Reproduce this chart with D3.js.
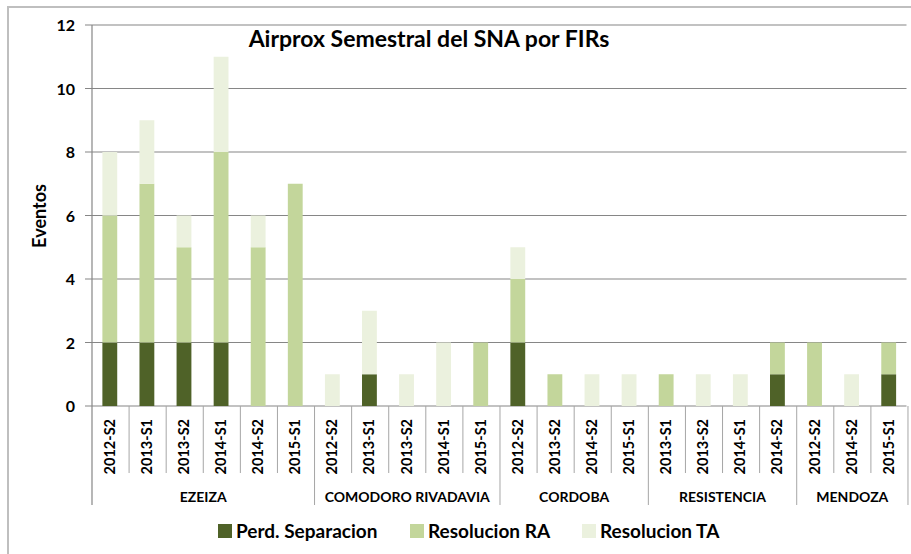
<!DOCTYPE html>
<html>
<head>
<meta charset="utf-8">
<script src="https://cdn.jsdelivr.net/npm/d3@7"></script>
<style>
  body { margin: 0; background: #fff; }
  text { font-family: Lato, "Open Sans", sans-serif; font-weight: bold; fill: #000; }
</style>
</head>
<body>
<svg id="chart" width="911" height="554"></svg>
<script>
// categories: one entry per bar, grouped by FIR
var firs = ["EZEIZA", "COMODORO RIVADAVIA", "CORDOBA", "RESISTENCIA", "MENDOZA"];
var periods = [
    ["2012-S2", "2013-S1", "2013-S2", "2014-S1", "2014-S2", "2015-S1"],
    ["2012-S2", "2013-S1", "2013-S2", "2014-S1", "2015-S1"],
    ["2012-S2", "2013-S2", "2014-S2", "2015-S1"],
    ["2013-S1", "2013-S2", "2014-S1", "2014-S2"],
    ["2012-S2", "2014-S2", "2015-S1"]
];

// series values, in bar order
var perdSeparacion = [2, 2, 2, 2, 0, 0,  0, 1, 0, 0, 0,  2, 0, 0, 0,  0, 0, 0, 1,  0, 0, 1];
var resolucionRA   = [4, 5, 3, 6, 5, 7,  0, 0, 0, 0, 2,  2, 1, 0, 0,  1, 0, 0, 1,  2, 0, 1];
var resolucionTA   = [2, 2, 1, 3, 1, 0,  1, 2, 1, 2, 0,  1, 0, 1, 1,  0, 1, 1, 0,  0, 1, 0];

var seriesNames = ["Perd. Separacion", "Resolucion RA", "Resolucion TA"];
var seriesColors = ["#4F6228", "#C3D69B", "#EBF1DE"];
var yTicks = [0, 2, 4, 6, 8, 10, 12];

var svg = d3.select("#chart");

// outer frame
svg.append("rect")
    .attr("x", 8).attr("y", 7)
    .attr("width", 910).attr("height", 560)
    .attr("fill", "none")
    .attr("stroke", "#BFBFBF")
    .attr("stroke-width", 2);

var plotLeft = 92, plotRight = 906.5, plotTop = 25, plotBottom = 406;

// build flat table
var rows = [];
var groups = [];
var k = 0;
firs.forEach(function (f, gi) {
    var start = k;
    periods[gi].forEach(function (p) {
        rows.push({ id: k, fir: f, period: p,
            "Perd. Separacion": perdSeparacion[k],
            "Resolucion RA": resolucionRA[k],
            "Resolucion TA": resolucionTA[k] });
        k++;
    });
    groups.push({ name: f, start: start, end: k - 1 });
});

var x = d3.scaleBand()
    .domain(rows.map(function (d) { return d.id; }))
    .range([plotLeft, plotRight])
    .paddingInner(0.6)
    .paddingOuter(0.28);

var step = x.step();

var y = d3.scaleLinear()
    .domain([0, 12])
    .range([plotBottom, plotTop]);

// gridlines
svg.append("g")
    .selectAll("line")
    .data(yTicks)
    .enter()
    .append("line")
    .attr("x1", plotLeft - 7)
    .attr("x2", plotRight)
    .attr("y1", function (d) { return y(d); })
    .attr("y2", function (d) { return y(d); })
    .attr("stroke", "#868686")
    .attr("stroke-width", 1.2);

// y axis labels
svg.append("g")
    .selectAll("text")
    .data(yTicks)
    .enter()
    .append("text")
    .attr("x", 75)
    .attr("y", function (d) { return y(d) + 6; })
    .attr("text-anchor", "end")
    .style("font-size", "16px")
    .text(function (d) { return d; });

// stacked bars
var stack = d3.stack().keys(seriesNames);
var layers = stack(rows);

svg.append("g")
    .selectAll("g")
    .data(layers)
    .enter()
    .append("g")
    .attr("fill", function (d, i) { return seriesColors[i]; })
    .selectAll("rect")
    .data(function (d) { return d; })
    .enter()
    .append("rect")
    .attr("x", function (d) { return x(d.data.id); })
    .attr("width", x.bandwidth())
    .attr("y", function (d) { return y(d[1]); })
    .attr("height", function (d) { return y(d[0]) - y(d[1]); });

// axis line
svg.append("line")
    .attr("x1", plotLeft).attr("x2", plotLeft)
    .attr("y1", plotTop).attr("y2", 505)
    .attr("stroke", "#868686").attr("stroke-width", 1.2);

// category tick lines (short) and group separators (long)
var boundaries = d3.range(1, rows.length + 1);
svg.append("g")
    .selectAll("line")
    .data(boundaries)
    .enter()
    .append("line")
    .attr("x1", function (i) { return plotLeft + step * i; })
    .attr("x2", function (i) { return plotLeft + step * i; })
    .attr("y1", plotBottom)
    .attr("y2", function (i) {
        var isGroupEnd = groups.some(function (g) { return g.end + 1 === i; });
        return isGroupEnd ? 505 : 473;
    })
    .attr("stroke", "#A6A6A6")
    .attr("stroke-width", 1);

// period labels
svg.append("g")
    .selectAll("text")
    .data(rows)
    .enter()
    .append("text")
    .attr("transform", function (d) {
        var cx = x(d.id) + x.bandwidth() / 2 + 5;
        return "translate(" + cx + ",419) rotate(-90)";
    })
    .attr("text-anchor", "end")
    .style("font-size", "14.5px")
    .text(function (d) { return d.period; });

// group labels
svg.append("g")
    .selectAll("text")
    .data(groups)
    .enter()
    .append("text")
    .attr("x", function (g) { return plotLeft + step * (g.start + g.end + 1) / 2; })
    .attr("y", 502)
    .attr("text-anchor", "middle")
    .style("font-size", "14px")
    .text(function (g) { return g.name; });

// y axis title
svg.append("text")
    .attr("transform", "translate(46,216) rotate(-90)")
    .attr("text-anchor", "middle")
    .style("font-size", "18px")
    .text("Eventos");

// title
svg.append("text")
    .attr("x", 429)
    .attr("y", 47)
    .attr("text-anchor", "middle")
    .style("font-size", "23px")
    .text("Airprox Semestral del SNA por FIRs");

// legend
var legendX = [218, 410, 582];
var legend = svg.append("g")
    .selectAll("g")
    .data(seriesNames)
    .enter()
    .append("g")
    .attr("transform", function (d, i) { return "translate(" + legendX[i] + ",524)"; });

legend.append("rect")
    .attr("width", 14).attr("height", 14)
    .attr("fill", function (d, i) { return seriesColors[i]; });

legend.append("text")
    .attr("x", 18)
    .attr("y", 14)
    .style("font-size", "19px")
    .text(function (d) { return d; });
</script>
</body>
</html>
